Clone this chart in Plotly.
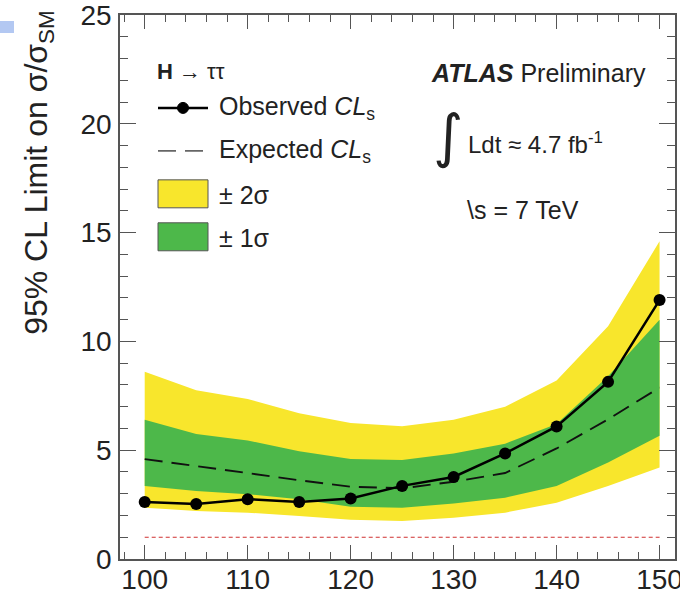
import plotly.graph_objects as go

# ---------------- data ----------------
mass = [100, 105, 110, 115, 120, 125, 130, 135, 140, 145, 150]
observed = [2.62, 2.53, 2.75, 2.62, 2.78, 3.36, 3.77, 4.85, 6.09, 8.14, 11.9]
expected = [4.59, 4.28, 3.95, 3.62, 3.32, 3.25, 3.55, 3.95, 5.08, 6.42, 7.88]
band2_up = [8.6, 7.75, 7.35, 6.7, 6.25, 6.1, 6.4, 7.0, 8.2, 10.7, 14.6]
band1_up = [6.4, 5.75, 5.45, 4.95, 4.6, 4.55, 4.85, 5.3, 6.2, 8.4, 11.0]
band1_dn = [3.35, 3.13, 2.98, 2.75, 2.4, 2.36, 2.55, 2.82, 3.36, 4.43, 5.66]
band2_dn = [2.36, 2.21, 2.13, 1.98, 1.8, 1.75, 1.9, 2.13, 2.59, 3.36, 4.2]
sm_level = 1.0
x_ticks = [100, 110, 120, 130, 140, 150]
y_ticks = [0, 5, 10, 15, 20, 25]

YELLOW = "#F8E62C"
GREEN = "#4DB84A"
FONT = "Liberation Sans"
TXT = "#222222"

W, H = 680, 594
L, R, T, B = 120, 675, 15, 559.5


def px(x):
    return (x - L) / (R - L)


def py(y):
    return (B - y) / (B - T)


fig = go.Figure()

fig.add_trace(go.Scatter(x=mass + mass[::-1], y=band2_up + band2_dn[::-1],
                         fill="toself", fillcolor=YELLOW, mode="none",
                         hoverinfo="skip", showlegend=False))
fig.add_trace(go.Scatter(x=mass + mass[::-1], y=band1_up + band1_dn[::-1],
                         fill="toself", fillcolor=GREEN, mode="none",
                         hoverinfo="skip", showlegend=False))
fig.add_trace(go.Scatter(x=[mass[0], mass[-1]], y=[sm_level, sm_level], mode="lines",
                         line=dict(color="#d03030", width=1.2, dash="4px,3px"),
                         showlegend=False))
fig.add_trace(go.Scatter(x=mass, y=expected, mode="lines",
                         line=dict(color="#111111", width=1.9, dash="18px,9px"),
                         showlegend=False))
fig.add_trace(go.Scatter(x=mass, y=observed, mode="lines+markers",
                         line=dict(color="black", width=2.5),
                         marker=dict(color="black", size=12),
                         showlegend=False))

axis_common = dict(showgrid=False, zeroline=False, showline=True, linecolor="#555",
                   linewidth=1.5, mirror="allticks", ticks="inside", tickcolor="#555",
                   tickwidth=1.3, ticklabeloverflow="allow", automargin=False,
                   tickfont=dict(family=FONT, size=28, color=TXT))

fig.update_xaxes(range=[97.6, 151.5], tickvals=x_ticks, ticklen=14,
                 ticklabelstandoff=-5,
                 minor=dict(dtick=2, tick0=100, ticklen=7, ticks="inside",
                            tickcolor="#555", tickwidth=1.2),
                 **axis_common)
fig.update_yaxes(range=[0, 25], tickvals=y_ticks, ticklen=16,
                 ticklabelstandoff=1,
                 minor=dict(dtick=1, tick0=0, ticklen=8, ticks="inside",
                            tickcolor="#555", tickwidth=1.2),
                 **axis_common)

shapes = []
annotations = []

# y title
annotations.append(dict(x=px(39), y=py(173), xref="paper", yref="paper",
                        text="95% CL Limit on σ/σ<sub>SM</sub>", textangle=-90,
                        showarrow=False, xanchor="center", yanchor="middle",
                        font=dict(family=FONT, size=32, color=TXT)))

# legend (decoration)
annotations.append(dict(x=px(155), y=py(72), xref="paper", yref="paper",
                        text="<b>H</b> → ττ", showarrow=False, xanchor="left",
                        yanchor="middle", font=dict(family=FONT, size=22, color=TXT)))
shapes.append(dict(type="line", xref="paper", yref="paper", x0=px(158), x1=px(208),
                   y0=py(108), y1=py(108), line=dict(color="black", width=2.5)))
shapes.append(dict(type="circle", xref="paper", yref="paper", x0=px(177.5), x1=px(188.5),
                   y0=py(102.5), y1=py(113.5), fillcolor="black",
                   line=dict(color="black", width=1)))
annotations.append(dict(x=px(217), y=py(108), xref="paper", yref="paper",
                        text="Observed <i>CL</i><sub>s</sub>", showarrow=False,
                        xanchor="left", yanchor="middle",
                        font=dict(family=FONT, size=25, color=TXT)))
shapes.append(dict(type="line", xref="paper", yref="paper", x0=px(158), x1=px(208),
                   y0=py(151), y1=py(151),
                   line=dict(color="#666", width=1.8, dash="18px,9px")))
annotations.append(dict(x=px(217), y=py(151), xref="paper", yref="paper",
                        text="Expected <i>CL</i><sub>s</sub>", showarrow=False,
                        xanchor="left", yanchor="middle",
                        font=dict(family=FONT, size=25, color=TXT)))
shapes.append(dict(type="rect", xref="paper", yref="paper", x0=px(158), x1=px(208),
                   y0=py(208), y1=py(180), fillcolor=YELLOW,
                   line=dict(color="#555", width=1)))
annotations.append(dict(x=px(217), y=py(195), xref="paper", yref="paper",
                        text="± 2σ", showarrow=False, xanchor="left", yanchor="middle",
                        font=dict(family=FONT, size=25, color=TXT)))
shapes.append(dict(type="rect", xref="paper", yref="paper", x0=px(158), x1=px(208),
                   y0=py(251), y1=py(223), fillcolor=GREEN,
                   line=dict(color="#555", width=1)))
annotations.append(dict(x=px(217), y=py(238), xref="paper", yref="paper",
                        text="± 1σ", showarrow=False, xanchor="left", yanchor="middle",
                        font=dict(family=FONT, size=25, color=TXT)))

# ATLAS labels
annotations.append(dict(x=px(429), y=py(73), xref="paper", yref="paper",
                        text="<b><i>ATLAS</i></b> Preliminary", showarrow=False,
                        xanchor="left", yanchor="middle",
                        font=dict(family=FONT, size=25, color=TXT)))
annotations.append(dict(x=px(448), y=py(136), xref="paper", yref="paper",
                        text="∫", showarrow=False, xanchor="center", yanchor="middle",
                        font=dict(family="DejaVu Sans", size=58, color=TXT)))
annotations.append(dict(x=px(466), y=py(143), xref="paper", yref="paper",
                        text="Ldt ≈ 4.7 fb<sup>-1</sup>", showarrow=False,
                        xanchor="left", yanchor="middle",
                        font=dict(family=FONT, size=24, color=TXT)))
annotations.append(dict(x=px(465), y=py(210), xref="paper", yref="paper",
                        text="\\s = 7 TeV", showarrow=False,
                        xanchor="left", yanchor="middle",
                        font=dict(family=FONT, size=25, color=TXT)))

# screenshot artifact at top-left
shapes.append(dict(type="rect", xref="paper", yref="paper", x0=px(0), x1=px(14),
                   y0=py(33), y1=py(21), fillcolor="#b3c8f2", line=dict(width=0)))

fig.update_layout(width=W, height=H, plot_bgcolor="white", paper_bgcolor="white",
                  margin=dict(l=L, r=W - R, t=T, b=H - B, pad=0),
                  showlegend=False, shapes=shapes, annotations=annotations)

fig.write_html("out.html", config={"displayModeBar": False},
               post_script="document.body.style.margin='0';document.body.style.padding='0';")
